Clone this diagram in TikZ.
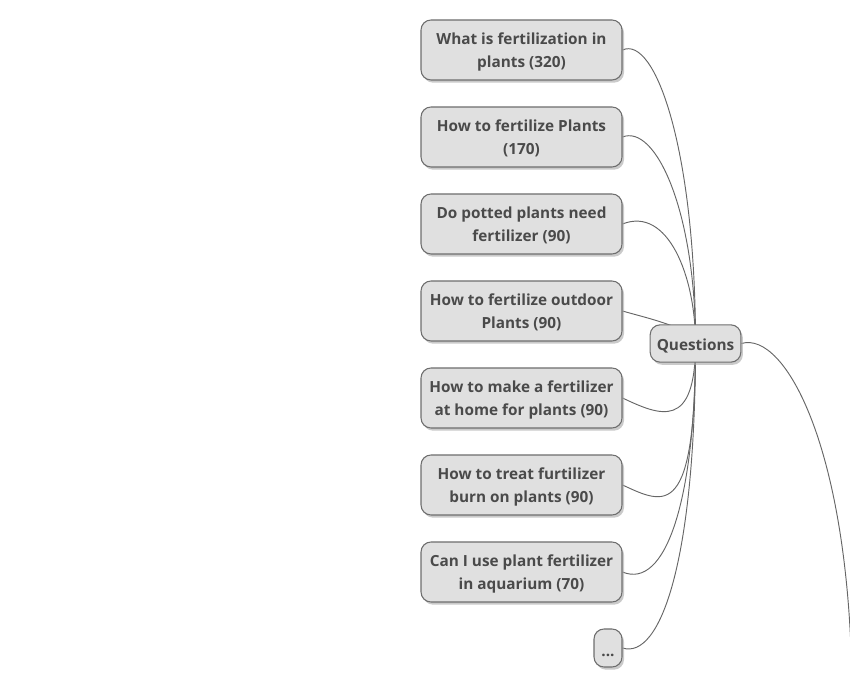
\documentclass[tikz,border=0pt]{standalone}
\usepackage{fontspec}
\setmainfont{Open Sans}
\usepackage{tikz}
\usetikzlibrary{shadows,backgrounds}

\definecolor{boxfill}{HTML}{E0E0E0}
\definecolor{boxline}{HTML}{6E6E6E}
\definecolor{boxtext}{HTML}{4A4A4A}
\definecolor{wire}{HTML}{666666}

\tikzset{
  topic/.style={draw=boxline, fill=boxfill, thick, rounded corners=7.5pt,
    text=boxtext, font=\fontsize{11.5}{17.25}\selectfont\bfseries, align=center,
    inner sep=0pt,
    drop shadow={shadow xshift=1.5pt, shadow yshift=-2pt, fill=black!35, opacity=0.6}},
  single/.style={topic, execute at begin node={\rule{0pt}{13pt}}},
  question/.style={topic, text depth=-3pt, minimum width=150.75pt, minimum height=45pt},
  wire/.style={draw=wire, line width=0.7pt}
}

\begin{document}
\begin{tikzpicture}[x=0.75pt, y=-0.75pt]
                      \useasboundingbox (0, 0) rectangle (850, 680);
                      \clip (0, 0) rectangle (850, 680);

                      \node[single, minimum width=68pt, minimum height=28pt] (qs) at (695.5, 343.5) {Questions};

                      \node[question] (q1) at (521.5, 50) {What is fertilization in\\plants (320)};
                      \node[question] (q2) at (521.5, 137) {How to fertilize Plants\\(170)};
                      \node[question] (q3) at (521.5, 224) {Do potted plants need\\fertilizer (90)};
                      \node[question] (q4) at (521.5, 311) {How to fertilize outdoor\\Plants (90)};
                      \node[question] (q5) at (521.5, 398) {How to make a fertilizer\\at home for plants (90)};
                      \node[question] (q6) at (521.5, 485) {How to treat furtilizer\\burn on plants (90)};
                      \node[question] (q7) at (521.5, 572) {Can I use plant fertilizer\\in aquarium (70)};
                      \node[single, minimum width=21pt, minimum height=28.5pt] (more) at (608, 648) {...};

                      \coordinate (tail) at (852, 690);

                      \begin{scope}[on background layer]
                      \draw[wire] (q1.east) .. controls +(33, -15) and +(0, -193) .. (qs.center);
                      \draw[wire] (q2.east) .. controls +(33, -13) and +(0, -133) .. (qs.center);
                      \draw[wire] (q3.east) .. controls +(45, -18) and +(0, -68) .. (qs.center);
                      \draw[wire] (q4.east) .. controls +(20, 6) and +(0, -15) .. (qs.center);
                      \draw[wire] (q5.east) .. controls +(38, 18) and +(0, 87) .. (qs.center);
                      \draw[wire] (q6.east) .. controls +(43, 20) and +(0, 177) .. (qs.center);
                      \draw[wire] (q7.east) .. controls +(43, 18) and +(0, 157) .. (qs.center);
                      \draw[wire] (more.east) .. controls +(38, 12) and +(0, 217) .. (qs.center);

                      \draw[wire] (qs.east) .. controls +(44, -13) and +(-2, -240) .. (tail);
                      \end{scope}
                  \end{tikzpicture}
\end{document}
